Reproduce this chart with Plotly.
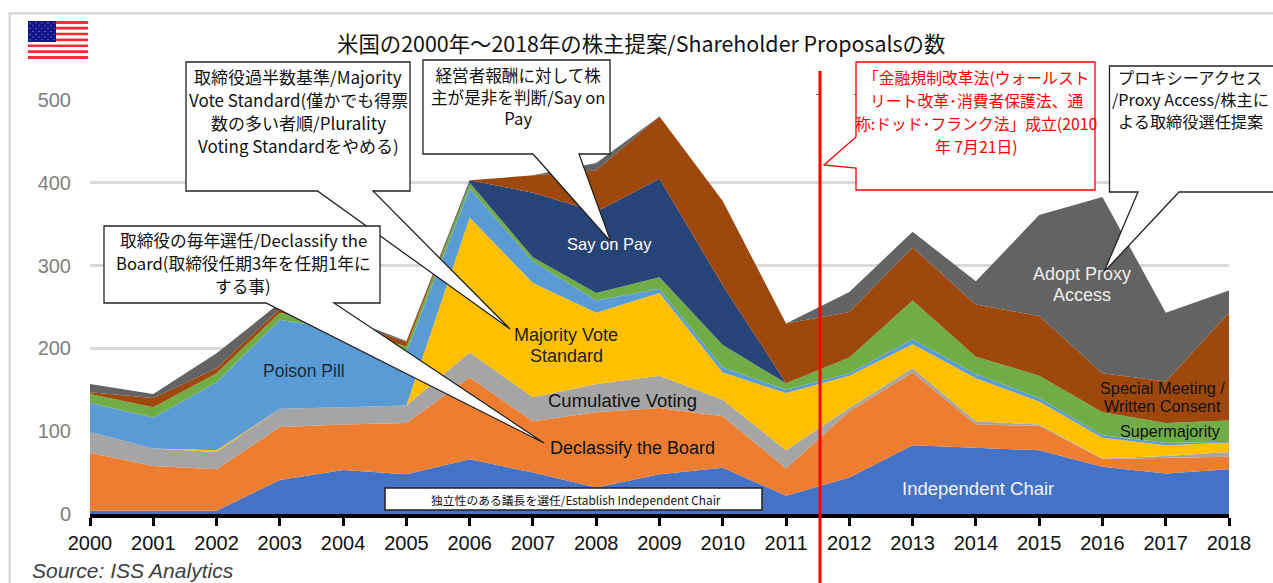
import plotly.graph_objects as go

W, H = 1273, 583
L, R, T, B = 90, 1229, 100, 514

years = list(range(2000, 2019))
independent_chair = [4,4,4,41,53,48,66,50,32,48,56,22,44,83,80,77,57,49,54]
declassify = [70,54,50,64,55,62,99,62,91,80,62,33,80,88,28,29.5,9.5,18.5,15]
cumulative_voting = [25,21,21,22,21,21,30,29,34,39,20,22,4,5,4,1.5,0.5,2.5,6]
majority_vote = [0,0,2,0,0,0,163,138,86,100,33,69,39,29,52,28,25,13,11]
poison_pill = [35,37.5,82,107.6,93,64,35,26,15,5,6,4,3,6,5,4,3,3,1]
supermajority = [11,12.5,11,8.4,5,7,7,5,9,14,27,8,19,47,21,27,28,24,26]
say_on_pay = [0,0,0,0,0,0,3,78,98,119,72,0,0,0,0,0,0,0,0]
special_meeting = [2,11,6,5,6,6,0,21,50,75,102,72,55,64,63,72,47,50,130]
proxy_access = [10,5,18,7,5,1,0,0,9,0,0,0,24,19,28,122,213,83,27]

series = [
    ("Independent Chair", independent_chair, "#4472C4"),
    ("Declassify the Board", declassify, "#ED7D31"),
    ("Cumulative Voting", cumulative_voting, "#A5A5A5"),
    ("Majority Vote Standard", majority_vote, "#FFC000"),
    ("Poison Pill", poison_pill, "#5B9BD5"),
    ("Supermajority", supermajority, "#70AD47"),
    ("Say on Pay", say_on_pay, "#264478"),
    ("Special Meeting / Written Consent", special_meeting, "#9E480E"),
    ("Adopt Proxy Access", proxy_access, "#636363"),
]

fig = go.Figure()
for name, vals, col in series:
    fig.add_trace(go.Scatter(x=years, y=vals, name=name, stackgroup="one", mode="lines",
                             line=dict(width=0, color=col), fillcolor=col, showlegend=False))

def px(x, y):
    return (x - L) / (R - L), (B - y) / (B - T)

def path(points):
    parts = []
    for i, (x, y) in enumerate(points):
        a, b = px(x, y)
        parts.append(("M" if i == 0 else "L") + f"{a:.5f},{b:.5f}")
    return " ".join(parts) + " Z"

shapes = []
def poly(points, fill="white", line="#222222", width=1.3):
    shapes.append(dict(type="path", xref="paper", yref="paper", path=path(points),
                       fillcolor=fill, line=dict(color=line, width=width)))

def rect(x0, y0, x1, y1, fill, line=None, width=0):
    a0, b0 = px(x0, y0); a1, b1 = px(x1, y1)
    shapes.append(dict(type="rect", xref="paper", yref="paper", x0=a0, y0=b0, x1=a1, y1=b1,
                       fillcolor=fill, line=dict(color=line or fill, width=width)))

# frame
rect(8.5, 12, 1280, 14.5, "#d9d9d9")
rect(8.5, 12, 11, 590, "#d9d9d9")

# flag
sh = (59 - 21) / 13
for i in range(13):
    rect(28, 21 + i * sh, 88, 21 + (i + 1) * sh, "#FF2A35" if i % 2 == 0 else "white")
rect(28, 21, 56, 42, "#14148C")
for r in range(7):
    for c in range(9):
        if (r + c) % 2 == 0:
            x, y = 30 + c * 3, 23 + r * 2.8
            a0, b0 = px(x - 0.5, y - 0.5); a1, b1 = px(x + 0.5, y + 0.5)
            shapes.append(dict(type="circle", xref="paper", yref="paper", x0=a0, y0=b0, x1=a1, y1=b1,
                               fillcolor="#c8c8e8", line=dict(width=0)))

# red line
rect(818.5, 71, 821.5, 590, "#FF0000")
rect(816, 94, 819, 95, "#555555")
rect(854, 94, 856, 95, "#555555")

# callouts
poly([(186,62),(410,62),(410,191),(373,191),(510,329),(317.5,191),(186,191)])
poly([(423,60),(610,60),(610,154),(579,154),(611,242),(533,154),(423,154)])
poly([(104,226),(380,226),(380,303),(334,303),(544,443),(266,303),(104,303)])
poly([(385,488),(762,488),(762,510),(385,510)], line="#222222", width=1.5)
poly([(856,62),(1095,62),(1095,190),(856,190),(856,168),(824,165),(856,137)], line="#FF0000", width=1.3)
poly([(1109.5,66),(1290,66),(1290,192),(1179,192),(1104,272),(1138,192),(1109.5,192)])

JP = "Noto Sans CJK JP"
LAT = "Liberation Sans"

def note(x, y, text, size, color="#111111", family=JP, pitch=None):
    if pitch is None:
        a, b = px(x, y)
        fig.add_annotation(x=a, y=b, xref="paper", yref="paper", text=text, showarrow=False,
                           font=dict(size=size, color=color, family=family), align="center",
                           xanchor="center", yanchor="middle")
        return
    lines = text.split("<br>")
    n = len(lines)
    for i, t in enumerate(lines):
        a, b = px(x, y + (i - (n - 1) / 2) * pitch)
        fig.add_annotation(x=a, y=b, xref="paper", yref="paper", text=t, showarrow=False,
                           font=dict(size=size, color=color, family=family), align="center",
                           xanchor="center", yanchor="middle")

note(641, 42, "米国の2000年～2018年の株主提案/Shareholder Proposalsの数", 21.4)
note(298, 111, "取締役過半数基準/Majority<br>Vote Standard(僅かでも得票<br>数の多い者順/Plurality<br>Voting Standardをやめる)", 17, pitch=23)
note(518, 96.5, "経営者報酬に対して株<br>主が是非を判断/Say on<br>Pay", 16.6)
note(243, 263, "取締役の毎年選任/Declassify the<br>Board(取締役任期3年を任期1年に<br>する事)", 16.7, pitch=22.7)
note(576, 499, "独立性のある議長を選任/Establish Independent Chair", 11.8)
note(976, 112, "「金融規制改革法(ウォールスト<br>リート改革･消費者保護法、通<br>称:ドッド･フランク法」成立(2010<br>年 7月21日)", 15.8, color="#FF0000", pitch=23)
note(1190, 99, "プロキシーアクセス<br>/Proxy Access/株主に<br>よる取締役選任提案", 16.2, pitch=22)

note(609, 244, "Say on Pay", 16.5, "white", LAT)
note(304, 371, "Poison Pill", 17.5, "#1a2a3a", LAT)
note(566, 345, "Majority Vote<br>Standard", 18, "#222222", LAT, pitch=21)
note(622, 400, "Cumulative Voting", 18.5, "#111111", LAT)
note(632, 448, "Declassify the Board", 18, "#111111", LAT)
note(978, 488, "Independent Chair", 18.5, "#f2f2f2", LAT)
note(1082, 284, "Adopt Proxy<br>Access", 18, "#eeeeee", LAT, pitch=21)
note(1162, 397, "Special Meeting /<br>Written Consent", 16.3, "#111111", LAT, pitch=18.5)
note(1170, 431, "Supermajority", 16.2, "#111111", LAT)

a, b = px(30, 570)
fig.add_annotation(x=a, y=b, xref="paper", yref="paper", text="<i>Source: ISS Analytics</i>", showarrow=False,
                   font=dict(size=21, color="#404040", family=LAT), xanchor="left", yanchor="middle")

fig.update_layout(
    width=W, height=H, autosize=False,
    margin=dict(l=L, r=W - R, t=T, b=H - B),
    paper_bgcolor="white", plot_bgcolor="white",
    shapes=shapes, showlegend=False,
    xaxis=dict(range=[2000, 2018], tickmode="array", tickvals=years, ticktext=[str(y) for y in years],
               showgrid=False, zeroline=False, showline=True, linecolor="black", linewidth=4,
               ticks="outside", ticklen=8, tickwidth=3, tickcolor="black",
               tickfont=dict(family=LAT, size=20, color="#111111")),
    yaxis=dict(range=[0, 500], tickmode="array", tickvals=[0,100,200,300,400,500],
               showgrid=True, gridcolor="#d9d9d9", gridwidth=3, zeroline=False, showline=False,
               ticks="", ticklabelstandoff=18,
               tickfont=dict(family=LAT, size=20, color="#7f7f7f")),
)

fig.write_html("out.html", config=dict(displayModeBar=False),
               post_script="document.body.style.margin='0';document.documentElement.style.overflow='hidden';")
